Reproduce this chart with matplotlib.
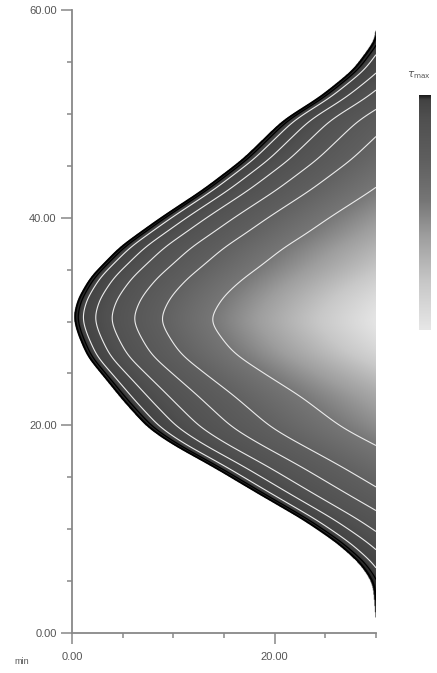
import numpy as np
import matplotlib.pyplot as plt
from matplotlib.colors import LinearSegmentedColormap
from matplotlib.ticker import MultipleLocator, FixedLocator, FormatStrFormatter

plt.rcParams['font.family'] = ['Liberation Sans', 'DejaVu Sans']

# left edge of the zone (y in min, x position)
edge_y = [1.5, 4.8, 6.7, 8.7, 10.9, 13.5, 16.0, 18.2, 19.8, 22.4, 24.7, 26.6, 28.9,
          30.4, 32.1, 34.3, 37.2, 40.0, 42.7, 45.6, 49.4, 51.6, 54.2, 57.1, 58.0]
edge_x = [30.0, 29.7, 28.4, 26.1, 22.8, 18.2, 13.9, 9.8, 7.4, 5.0, 3.1, 1.5, 0.5,
          0.1, 0.5, 1.8, 4.7, 8.7, 12.9, 16.8, 20.8, 24.4, 27.7, 29.9, 30.0]
center_y = 30.0

# how much the contour spacing widens away from the apex
spread_dy = [-28, -12, -7.3, -5.3, -2.7, 0, 2.8, 5, 8.2, 14, 28]
spread_k = [1.5, 1.48, 1.33, 1.21, 1.07, 1.0, 1.07, 1.16, 1.23, 1.25, 1.3]

# contour levels (offset from the edge at the apex)
white_levels = [0.9, 2.1, 3.7, 5.9, 8.6, 13.5]
dark_levels = [0.1, 0.4]

# grey scale: dark at the edge, light in the middle
gray_pos = [0, 0.6, 3, 8, 13.5, 18, 24, 30]
gray_val = ['#1c1c1c', '#434343', '#505050', '#5e5e5e', '#767676', '#9e9e9e', '#c8c8c8', '#e7e7e7']

xs = np.linspace(0, 30, 601)
ys = np.linspace(0, 60, 1201)

# smooth the edge/spread profiles a little along y
kern = np.exp(-0.5 * (np.arange(-30, 31) * (ys[1] - ys[0]) / 0.6) ** 2)
kern /= kern.sum()
pad = len(kern) // 2
b_line = np.interp(ys, edge_y, edge_x)
b_line = np.convolve(np.pad(b_line, pad, mode='edge'), kern, mode='valid')
k_line = np.interp(ys - center_y, spread_dy, spread_k)
k_line = np.convolve(np.pad(k_line, pad, mode='edge'), kern, mode='valid')

X, Y = np.meshgrid(xs, ys)
W = (X - b_line[:, None]) / k_line[:, None]
W = np.ma.masked_where((W <= 0) | (Y < edge_y[0]) | (Y > edge_y[-1]), W)

cmap = LinearSegmentedColormap.from_list(
    'zone', [(p / gray_pos[-1], c) for p, c in zip(gray_pos, gray_val)])

fig = plt.figure(figsize=(4.37, 6.73), dpi=100)
ax = fig.add_axes([72 / 437, 40 / 673, 304 / 437, 623 / 673])

ax.imshow(W, extent=(0, 30, 0, 60), origin='lower', cmap=cmap, vmin=0, vmax=30,
          aspect='auto', interpolation='bilinear')
ax.contour(X, Y, W, levels=white_levels, colors='#ececec', linewidths=0.8)
ax.contour(X, Y, W, levels=dark_levels, colors='#000000', linewidths=[1.3, 0.9])

ax.set_xlim(0, 30)
ax.set_ylim(0, 60)
for s in ['top', 'right']:
    ax.spines[s].set_visible(False)
for s in ['left', 'bottom']:
    ax.spines[s].set_color('#888888')
    ax.spines[s].set_linewidth(1.3)

ax.xaxis.set_major_locator(FixedLocator([0, 20]))
ax.xaxis.set_minor_locator(MultipleLocator(5))
ax.yaxis.set_major_locator(MultipleLocator(20))
ax.yaxis.set_minor_locator(MultipleLocator(5))
ax.xaxis.set_major_formatter(FormatStrFormatter('%.2f'))
ax.yaxis.set_major_formatter(FormatStrFormatter('%.2f'))
ax.tick_params(which='both', direction='out', color='#888888', width=1.1,
               labelsize=8, labelcolor='#555555')
ax.tick_params(which='major', length=8, pad=3)
ax.tick_params(which='minor', length=3.5)
ax.tick_params(axis='x', which='major', pad=6)

fig.text(22 / 437, 1 - 661 / 673, 'min', fontsize=6.5, color='#555555', ha='center', va='center')

# grey scale bar
cax = fig.add_axes([419 / 437, 1 - 330 / 673, 12 / 437, 235 / 673])
bar = np.linspace(0, 30, 256).reshape(-1, 1)
cax.imshow(bar, cmap=cmap, vmin=0, vmax=30, aspect='auto', origin='upper')
cax.axis('off')
fig.text(419 / 437, 1 - 75 / 673, r'$\tau_{\mathrm{max}}$', fontsize=7.5, color='#555555',
         ha='center', va='center')

fig.savefig('out.png', dpi=100)
